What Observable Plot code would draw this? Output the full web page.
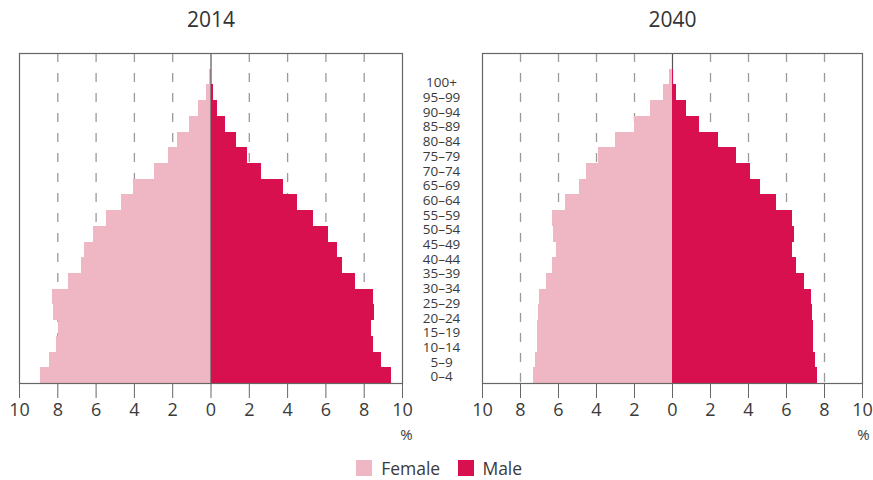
<!DOCTYPE html>
<html>
<head>
<meta charset="utf-8">
<script src="https://cdn.jsdelivr.net/npm/d3@7"></script>
<script src="https://cdn.jsdelivr.net/npm/@observablehq/plot@0.6"></script>
<style>
  html, body { margin: 0; padding: 0; background: #fff; }
  #wrap { position: relative; width: 873px; height: 480px; font-family: "Open Sans", "Liberation Sans", sans-serif; }
  #wrap svg { background: transparent !important; }
  .panel { position: absolute; top: 0; }
</style>
</head>
<body>
<div id="wrap">
  <div id="left" class="panel" style="left:0px"></div>
  <div id="right" class="panel" style="left:452px"></div>
  <div id="mid" class="panel" style="left:410px"></div>
  <div id="legend" style="position:absolute;left:23px;top:451px;width:850px;display:flex;justify-content:center"></div>
</div>
<script>
// Age groups, bottom (youngest) to top (oldest)
const ages = ["0–4","5–9","10–14","15–19","20–24","25–29","30–34","35–39","40–44","45–49","50–54","55–59","60–64","65–69","70–74","75–79","80–84","85–89","90–94","95–99","100+"];

// Share of population (%), same order as ages
const female2014 = [8.92, 8.45, 8.07, 7.97, 8.23, 8.28, 7.44, 6.78, 6.62, 6.14, 5.47, 4.67, 4.03, 2.96, 2.23, 1.75, 1.12, 0.63, 0.25, 0.06, 0.0];
const male2014   = [9.41, 8.92, 8.50, 8.36, 8.55, 8.48, 7.56, 6.85, 6.62, 6.13, 5.36, 4.51, 3.76, 2.65, 1.88, 1.34, 0.77, 0.35, 0.12, 0.03, 0.0];
const female2040 = [7.34, 7.21, 7.13, 7.10, 7.06, 6.98, 6.64, 6.29, 6.13, 6.24, 6.33, 5.64, 4.92, 4.55, 3.90, 3.00, 1.99, 1.16, 0.49, 0.15, 0.02];
const male2040   = [7.63, 7.50, 7.42, 7.42, 7.38, 7.31, 6.96, 6.55, 6.34, 6.40, 6.34, 5.48, 4.64, 4.13, 3.39, 2.42, 1.44, 0.72, 0.21, 0.07, 0.01];

const years = ["2014", "2040"];
const xTicks = [-10, -8, -6, -4, -2, 0, 2, 4, 6, 8, 10];
const gridTicks = [-8, -6, -4, -2, 2, 4, 6, 8];
const sexes = ["Female", "Male"];

const PINK = "#EFB6C4";
const RED = "#D8104F";
const FONT = "'Open Sans', 'Liberation Sans', sans-serif";
const TEXT = "#3a3a3a";

const yDomain = ages.slice().reverse();

function panel(title, female, male, opts) {
  const rows = ages.map((a, i) => ({age: a, female: female[i], male: male[i]}));
  const zeroRule = Plot.ruleX([0], {stroke: "#555", strokeWidth: 1.2});
  return Plot.plot({
    width: opts.width,
    height: 480,
    marginLeft: opts.ml,
    marginRight: opts.mr,
    marginTop: 53,
    marginBottom: 97,
    style: {fontFamily: FONT, fontSize: "18px", color: TEXT, background: "transparent", overflow: "visible"},
    x: {domain: [-10, 10], ticks: xTicks, tickFormat: d => Math.abs(d), tickSize: 15, tickPadding: 5, label: null},
    y: {domain: yDomain, padding: 0, round: false, axis: null},
    marks: [
      Plot.ruleX(gridTicks, {stroke: "#9a9a9a", strokeWidth: 1.3, strokeDasharray: "9,11"}),
      opts.zeroOnTop ? null : zeroRule,
      Plot.barX(rows, {y: "age", x1: 0, x2: d => -d.female, fill: PINK, inset: 0, shapeRendering: "crispEdges"}),
      Plot.barX(rows, {y: "age", x1: 0, x2: d => d.male, fill: RED, inset: 0, shapeRendering: "crispEdges"}),
      opts.zeroOnTop ? zeroRule : null,
      Plot.frame({stroke: "#666", strokeWidth: 1.2}),
      Plot.axisX({ticks: xTicks, tickFormat: d => Math.abs(d), tickSize: 15, tickPadding: 5, stroke: "#666", fill: TEXT, fontSize: 18, label: null}),
      Plot.text([10], {x: d => d, text: () => "%", frameAnchor: "bottom", lineAnchor: "top", dy: 46, dx: opts.pdx, fontSize: 15, fill: TEXT}),
      Plot.text([title], {text: d => d, frameAnchor: "top", lineAnchor: "top", dy: -41, fontSize: 21, fill: "#333"})
    ]
  });
}

document.getElementById("left").append(
  panel(years[0], female2014, male2014, {width: 430, ml: 19, mr: 28, zeroOnTop: true, pdx: 4})
);
document.getElementById("right").append(
  panel(years[1], female2040, male2040, {width: 421, ml: 30, mr: 11, zeroOnTop: false, pdx: 1})
);

// Age-group labels between the panels
document.getElementById("mid").append(Plot.plot({
  width: 62,
  height: 480,
  marginLeft: 0,
  marginRight: 0,
  marginTop: 82.5,
  marginBottom: 103.5,
  style: {fontFamily: FONT, background: "transparent", overflow: "visible"},
  y: {domain: yDomain, padding: 0, round: false, axis: null},
  x: {axis: null},
  marks: [
    Plot.text(ages, {y: d => d, text: d => d, frameAnchor: "middle", textAnchor: "middle", fontSize: 13.5, fill: TEXT})
  ]
}));

// Legend
const legend = Plot.legend({
  color: {type: "ordinal", domain: sexes, range: [PINK, RED]},
  legend: "swatches",
  swatchSize: 16,
  style: {fontFamily: FONT, fontSize: "17.5px", color: TEXT, background: "transparent"}
});
document.getElementById("legend").append(legend);
</script>
</body>
</html>
